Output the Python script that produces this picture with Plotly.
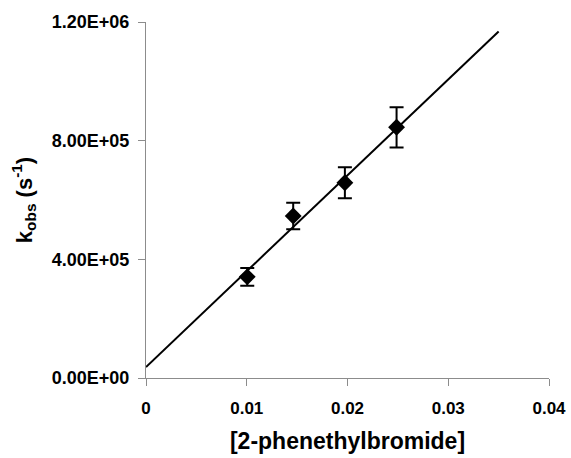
import plotly.graph_objects as go

# Data
conc = [0.01005, 0.01461, 0.01974, 0.02487]
kobs = [3.41e5, 5.46e5, 6.58e5, 8.45e5]
kobs_err = [0.30e5, 0.45e5, 0.52e5, 0.68e5]

fit_x = [0.0, 0.035]
fit_y = [3.7e4, 1.168e6]

x_ticks = [0, 0.01, 0.02, 0.03, 0.04]
x_ticktext = ["0", "0.01", "0.02", "0.03", "0.04"]
y_ticks = [0, 4e5, 8e5, 1.2e6]
y_ticktext = ["0.00E+00", "4.00E+05", "8.00E+05", "1.20E+06"]

FONT = "Arial, Liberation Sans, sans-serif"

fig = go.Figure()
fig.add_trace(go.Scatter(
    x=fit_x, y=fit_y, mode="lines",
    line=dict(color="black", width=2),
    showlegend=False, hoverinfo="skip",
))
fig.add_trace(go.Scatter(
    x=conc, y=kobs, mode="markers",
    marker=dict(symbol="diamond", color="black", size=13),
    error_y=dict(type="data", array=kobs_err, visible=True,
                 color="black", thickness=2, width=7),
    showlegend=False,
))

axis_common = dict(
    showline=True, linecolor="#8c8c8c", linewidth=1,
    ticks="outside", tickcolor="#8c8c8c", ticklen=7, tickwidth=1,
    showgrid=False, zeroline=False,
)

fig.update_layout(
    width=571, height=458,
    margin=dict(l=146, r=22, t=22, b=80),
    paper_bgcolor="white", plot_bgcolor="white",
    font=dict(family=FONT, color="black"),
    xaxis=dict(
        range=[0, 0.04], tickvals=x_ticks,
        ticktext=["<b>%s</b>" % t for t in x_ticktext],
        tickfont=dict(family=FONT, size=17, color="black", weight="bold"),
        ticklabelstandoff=8, automargin=False,
        title=dict(text="<b>[2-phenethylbromide]</b>",
                   font=dict(family=FONT, size=23, color="black")),
        **axis_common,
    ),
    yaxis=dict(
        range=[0, 1.2e6], tickvals=y_ticks,
        ticktext=["<b>%s</b>" % t for t in y_ticktext],
        tickfont=dict(family=FONT, size=18, color="black", weight="bold"),
        ticklabelstandoff=5, automargin=True,
        title=dict(text="<b>k<sub>obs</sub> (s<sup>-1</sup>)</b>",
                   font=dict(family=FONT, size=22, color="black"), standoff=13),
        **axis_common,
    ),
)

fig.write_html("out.html", config={"displayModeBar": False},
               post_script="document.body.style.margin='0';")
